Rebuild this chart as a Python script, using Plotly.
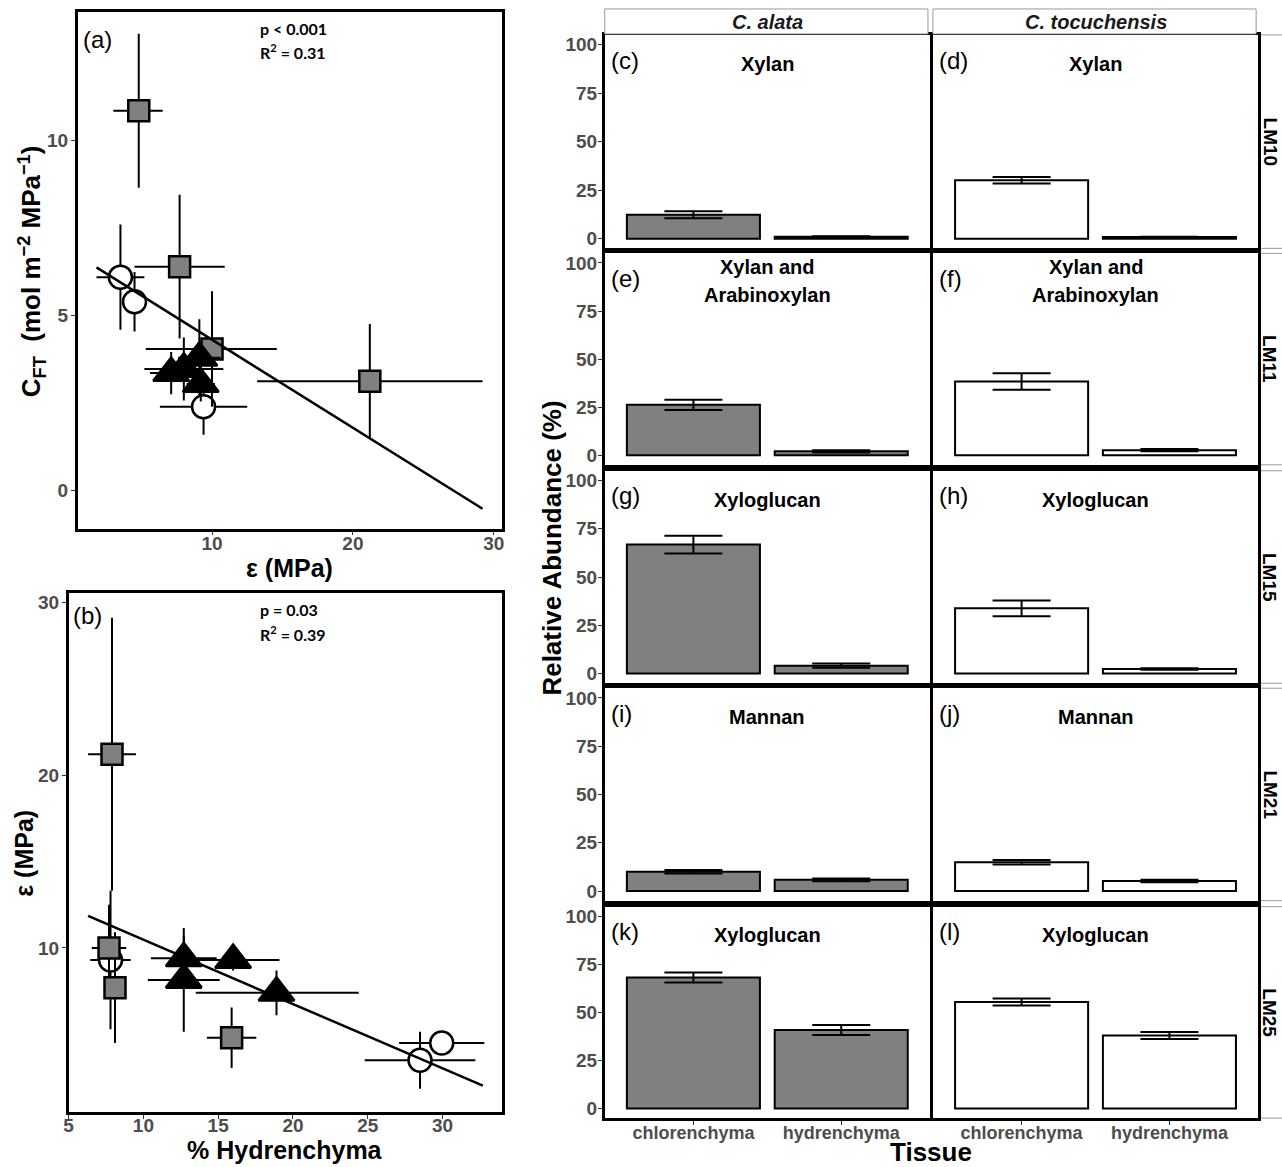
import numpy as np
import plotly.graph_objects as go

W, H = 1282, 1167

# ---------------- Panel (a): capacitance vs. elasticity ----------------
sq_a_eps = [4.8, 7.7, 10.0, 21.2]
sq_a_eps_lo = [1.8, 3.2, 4.7, 8.0]
sq_a_eps_hi = [1.7, 3.2, 4.6, 8.0]
sq_a_cft = [10.85, 6.4, 4.05, 3.13]
sq_a_cft_err = [2.2, 2.05, 1.65, 1.63]

ci_a_eps = [3.5, 4.5, 9.4]
ci_a_eps_err = [1.7, 0.6, 3.1]
ci_a_cft = [6.1, 5.4, 2.4]
ci_a_cft_err = [1.5, 0.85, 0.8]

tr_a_eps = [7.1, 8.0, 9.1, 9.2]
tr_a_eps_err = [1.5, 2.8, 1.5, 1.0]
tr_a_cft = [3.36, 3.48, 3.8, 3.05]
tr_a_cft_err = [0.6, 0.9, 1.1, 0.5]

fit_a_x = [1.8, 29.2]
fit_a_coef = (6.83, -0.2515)  # intercept, slope

# ---------------- Panel (b): elasticity vs. % hydrenchyma ----------------
sq_b_hyd = [7.9, 7.7, 8.1, 15.9]
sq_b_hyd_err = [1.6, 1.15, 0.5, 1.65]
sq_b_eps = [21.2, 10.0, 7.7, 4.8]
sq_b_eps_err = [7.9, 2.5, 3.2, 1.75]

ci_b_hyd = [7.8, 28.5, 29.95]
ci_b_hyd_err = [1.35, 3.7, 2.85]
ci_b_eps = [9.3, 3.5, 4.5]
ci_b_eps_err = [4.0, 1.65, 0.4]

tr_b_hyd = [12.7, 12.7, 16.0, 18.9]
tr_b_hyd_lo = [2.2, 2.4, 2.4, 5.4]
tr_b_hyd_hi = [2.2, 2.4, 3.1, 5.5]
tr_b_eps = [9.4, 8.15, 9.3, 7.4]
tr_b_eps_err = [1.3, 3.0, 0.6, 1.3]

fit_b_x = [6.3, 32.7]
fit_b_coef = (14.19, -0.3718)

# ---------------- Panels (c)-(l): epitope relative abundance ----------------
tissues = ["chlorenchyma", "hydrenchyma"]
species = ["C. alata", "C. tocuchensis"]
antibodies = ["LM10", "LM11", "LM15", "LM21", "LM25"]
epitopes = ["Xylan", "Xylan and|Arabinoxylan", "Xyloglucan", "Mannan", "Xyloglucan"]
panel_letters = [["(c)", "(d)"], ["(e)", "(f)"], ["(g)", "(h)"], ["(i)", "(j)"], ["(k)", "(l)"]]

alata_chl = [12.3, 26.2, 66.8, 10.0, 68.2]
alata_chl_se = [1.8, 2.7, 4.6, 0.9, 2.6]
alata_hyd = [1.0, 2.0, 4.1, 5.8, 40.8]
alata_hyd_se = [0.3, 0.6, 1.1, 0.7, 2.6]
toc_chl = [30.1, 38.3, 33.8, 14.9, 55.4]
toc_chl_se = [1.7, 4.3, 4.1, 1.2, 1.8]
toc_hyd = [0.8, 2.6, 2.4, 5.2, 38.0]
toc_hyd_se = [0.2, 0.6, 0.4, 0.6, 1.8]

# ---------------- styling ----------------
SANS = "Liberation Sans, Arial, sans-serif"
CALIB = "Lato, Open Sans, sans-serif"
TICK_GREY = "#4D4D4D"
ALATA_FILL = "#808080"


def xdom(p0, p1):
    return [p0 / W, p1 / W]


def ydom(p0, p1):
    return [1 - p1 / H, 1 - p0 / H]


def points(x, y, ex_lo, ex_hi, ey_lo, ey_hi, symbol, fill, size, xa, ya):
    return go.Scatter(
        x=x, y=y, mode="markers", xaxis=xa, yaxis=ya, showlegend=False,
        marker=dict(symbol=symbol, size=size, color=fill,
                    line=dict(color="black", width=2.5)),
        error_x=dict(type="data", symmetric=False, array=ex_hi, arrayminus=ex_lo,
                     color="black", thickness=2, width=0),
        error_y=dict(type="data", symmetric=False, array=ey_hi, arrayminus=ey_lo,
                     color="black", thickness=2, width=0),
    )


fig = go.Figure()

# panel (a)
fig.add_trace(points(ci_a_eps, ci_a_cft, ci_a_eps_err, ci_a_eps_err, ci_a_cft_err, ci_a_cft_err,
                     "circle", "white", 23, "x", "y"))
fig.add_trace(points(sq_a_eps, sq_a_cft, sq_a_eps_lo, sq_a_eps_hi, sq_a_cft_err, sq_a_cft_err,
                     "square", ALATA_FILL, 21, "x", "y"))
fig.add_trace(points(tr_a_eps, tr_a_cft, tr_a_eps_err, tr_a_eps_err, tr_a_cft_err, tr_a_cft_err,
                     "triangle-up", "black", 31, "x", "y"))
fa_x = np.array(fit_a_x)
fig.add_trace(go.Scatter(x=fa_x, y=fit_a_coef[0] + fit_a_coef[1] * fa_x, mode="lines",
                         line=dict(color="black", width=2.5), xaxis="x", yaxis="y",
                         showlegend=False))

# panel (b)
fig.add_trace(points(ci_b_hyd, ci_b_eps, ci_b_hyd_err, ci_b_hyd_err, ci_b_eps_err, ci_b_eps_err,
                     "circle", "white", 23, "x2", "y2"))
fig.add_trace(points(sq_b_hyd, sq_b_eps, sq_b_hyd_err, sq_b_hyd_err, sq_b_eps_err, sq_b_eps_err,
                     "square", ALATA_FILL, 21, "x2", "y2"))
fig.add_trace(points(tr_b_hyd, tr_b_eps, tr_b_hyd_lo, tr_b_hyd_hi, tr_b_eps_err, tr_b_eps_err,
                     "triangle-up", "black", 31, "x2", "y2"))
fb_x = np.array(fit_b_x)
fig.add_trace(go.Scatter(x=fb_x, y=fit_b_coef[0] + fit_b_coef[1] * fb_x, mode="lines",
                         line=dict(color="black", width=2.5), xaxis="x2", yaxis="y2",
                         showlegend=False))

scatter_axis = dict(showline=True, mirror=True, linewidth=2.5, linecolor="black",
                    showgrid=False, zeroline=False, ticks="outside", ticklen=4,
                    tickcolor="#333333", tickwidth=1,
                    tickfont=dict(family=SANS, size=19, color=TICK_GREY, weight="bold"))

layout = dict(
    width=W, height=H, margin=dict(l=0, r=0, t=0, b=0),
    paper_bgcolor="white", plot_bgcolor="white", showlegend=False,
    xaxis=dict(domain=xdom(73, 500), range=[0.46, 30.6], tickvals=[10, 20, 30],
               anchor="y", ticklabelstandoff=-8, **scatter_axis),
    yaxis=dict(domain=ydom(10, 528), range=[-1.08, 13.67], tickvals=[0, 5, 10],
               anchor="x", ticklabelstandoff=-1, **scatter_axis),
    xaxis2=dict(domain=xdom(64, 500), range=[5.0, 34.0], tickvals=[5, 10, 15, 20, 25, 30],
                anchor="y2", ticklabelstandoff=-10, **scatter_axis),
    yaxis2=dict(domain=ydom(593, 1113), range=[0.5, 30.5], tickvals=[10, 20, 30],
                anchor="x2", ticklabelstandoff=-1, **scatter_axis),
)

annotations = []
shapes = []


def text(x, y, s, size, family=SANS, weight="normal", color="black", xanchor="center",
         angle=0, xref="paper", yref="paper", yanchor="middle"):
    annotations.append(dict(x=x, y=y, xref=xref, yref=yref, text=s, showarrow=False,
                            xanchor=xanchor, yanchor=yanchor, textangle=angle,
                            font=dict(family=family, size=size, color=color, weight=weight)))


# scatter panel decorations
text(76 / W, 1 - 38 / H, "(a)", 24, xanchor="left")
text(66 / W, 1 - 615 / H, "(b)", 24, xanchor="left")
text(254 / W, 1 - 27 / H, "p < 0.001", 16, family=CALIB, weight="bold", xanchor="left")
text(254 / W, 1 - 50 / H, "R<sup>2</sup> = 0.31", 16, family=CALIB, weight="bold", xanchor="left")
text(254 / W, 1 - 609 / H, "p = 0.03", 16, family=CALIB, weight="bold", xanchor="left")
text(254 / W, 1 - 633 / H, "R<sup>2</sup> = 0.39", 16, family=CALIB, weight="bold", xanchor="left")
text(286 / W, 1 - 567 / H, "ε (MPa)", 25, weight="bold")
text(282 / W, 1 - 1151 / H, "% Hydrenchyma", 25, weight="bold")
text(27 / W, 1 - 270 / H, "C<sub>FT</sub>  (mol m<sup>−2</sup> MPa<sup>−1</sup>)", 26,
     weight="bold", angle=-90)
text(19 / W, 1 - 853 / H, "ε (MPa)", 25, weight="bold", angle=-90)

# facet grid of bar panels
col_px = [(603, 930), (933, 1260)]
row_px = [(33, 247), (252, 464), (470, 683), (688, 901), (907, 1119)]
means = [[alata_chl, alata_hyd], [toc_chl, toc_hyd]]
ses = [[alata_chl_se, alata_hyd_se], [toc_chl_se, toc_hyd_se]]
fills = [ALATA_FILL, "white"]

for r in range(5):
    for c in range(2):
        n = 3 + r * 2 + c
        xa, ya = f"x{n}", f"y{n}"
        fig.add_trace(go.Bar(
            x=[0, 1], y=[means[c][0][r], means[c][1][r]], width=0.9,
            xaxis=xa, yaxis=ya, showlegend=False,
            marker=dict(color=fills[c], line=dict(color="black", width=2)),
            error_y=dict(type="data", array=[ses[c][0][r], ses[c][1][r]],
                         color="black", thickness=2, width=29),
        ))
        bottom = r == 4
        left = c == 0
        layout[f"xaxis{n}"] = dict(
            domain=xdom(*col_px[c]), range=[-0.6, 1.6], anchor=ya,
            showline=True, mirror=True, linewidth=2.5, linecolor="black",
            showgrid=False, zeroline=False, tickvals=[0, 1], ticktext=tissues,
            showticklabels=bottom, ticks="outside" if bottom else "", ticklen=4,
            tickcolor="#333333", tickwidth=1, ticklabelstandoff=-7,
            tickfont=dict(family=SANS, size=18, color=TICK_GREY, weight="bold"))
        layout[f"yaxis{n}"] = dict(
            domain=ydom(*row_px[r]), range=[-5, 105], anchor=xa,
            showline=True, mirror=True, linewidth=2.5, linecolor="black",
            showgrid=False, zeroline=False, tickvals=[0, 25, 50, 75, 100],
            showticklabels=left, ticks="outside" if left else "", ticklen=4,
            tickcolor="#333333", tickwidth=1, ticklabelstandoff=-3,
            tickfont=dict(family=SANS, size=19, color=TICK_GREY, weight="bold"))
        # panel letter and epitope name
        text(0.012, 92, panel_letters[r][c], 24, xanchor="left",
             xref=f"{xa} domain", yref=ya)
        parts = epitopes[r].split("|")
        if len(parts) == 1:
            text(0.5, 90, parts[0], 20, weight="bold", xref=f"{xa} domain", yref=ya)
        else:
            text(0.5, 97.7, parts[0], 20, weight="bold", xref=f"{xa} domain", yref=ya)
            text(0.5, 83.3, parts[1], 20, weight="bold", xref=f"{xa} domain", yref=ya)

    # row strip (antibody)
    y0, y1 = row_px[r]
    shapes.append(dict(type="rect", xref="paper", yref="paper",
                       x0=1262 / W, x1=1300 / W, y0=1 - y1 / H, y1=1 - y0 / H,
                       line=dict(color="#9A9A9A", width=1), fillcolor="white", layer="below"))
    text(1272 / W, 1 - (y0 + y1) / 2 / H, antibodies[r], 19, weight="bold", angle=90)

# column strips (species)
for c in range(2):
    x0, x1 = col_px[c]
    shapes.append(dict(type="rect", xref="paper", yref="paper",
                       x0=x0 / W, x1=(x1 - 2) / W, y0=1 - 32 / H, y1=1 - 7 / H,
                       line=dict(color="#9A9A9A", width=1), fillcolor="white"))
    text((x0 + x1) / 2 / W, 1 - 20 / H, f"<i>{species[c]}</i>", 20, weight="bold",
         color="#1A1A1A")

text(550 / W, 1 - 547 / H, "Relative Abundance (%)", 26, weight="bold", angle=-90)
text(931 / W, 1 - 1153 / H, "Tissue", 26, weight="bold")

layout["annotations"] = annotations
layout["shapes"] = shapes
fig.update_layout(**layout)

fig.write_html("out.html")
